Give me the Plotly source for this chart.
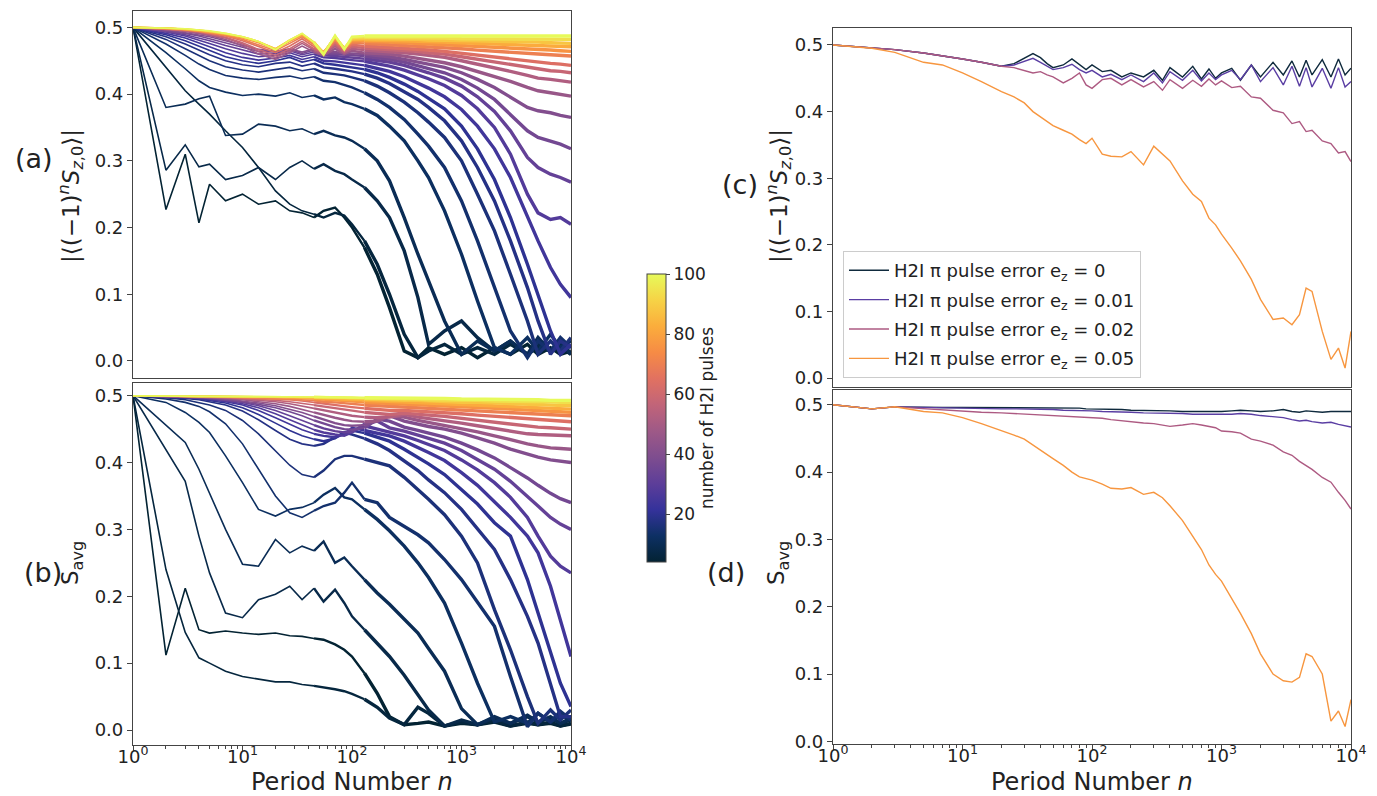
import plotly.graph_objects as go
from plotly.colors import get_colorscale, sample_colorscale

# ---------------- data: left panels (a) and (b) ----------------
N_GRID = [1, 2, 3, 4, 5, 7, 10, 14, 20, 27, 35, 45, 55, 70, 85, 100, 130, 170, 220, 300,
          400, 500, 700, 1000, 1400, 2000, 2800, 4000, 5000, 6500, 8000, 10000]

N_PULSES = [4, 6, 8, 10, 12, 14, 16, 18, 20, 24, 28, 32, 36, 40, 46, 52, 58, 64, 70, 76, 82, 88, 94, 100]

A_N04 = [0.500,0.227,0.310,0.207,0.265,0.240,0.250,0.235,0.240,0.225,0.222,0.215,0.225,0.230,0.215,0.200,0.170,0.130,0.080,0.015,0.005,0.020,0.010,0.020,0.005,0.020,0.010,0.025,0.010,0.020,0.010,0.015]
A_N06 = [0.500,0.440,0.405,0.385,0.370,0.345,0.320,0.290,0.255,0.235,0.225,0.220,0.215,0.222,0.218,0.205,0.180,0.145,0.100,0.040,0.005,0.015,0.025,0.010,0.020,0.010,0.025,0.010,0.020,0.015,0.020,0.010]
A_N08 = [0.500,0.286,0.324,0.291,0.295,0.272,0.278,0.290,0.272,0.290,0.300,0.288,0.295,0.285,0.280,0.272,0.260,0.240,0.215,0.165,0.095,0.025,0.045,0.060,0.035,0.015,0.030,0.010,0.025,0.015,0.025,0.010]
A_N10 = [0.500,0.380,0.385,0.393,0.397,0.338,0.340,0.355,0.352,0.345,0.348,0.340,0.345,0.338,0.335,0.330,0.318,0.300,0.270,0.215,0.160,0.120,0.060,0.010,0.030,0.015,0.030,0.010,0.035,0.015,0.030,0.010]
A_N12 = [0.500,0.462,0.438,0.420,0.410,0.403,0.398,0.400,0.397,0.402,0.395,0.398,0.392,0.395,0.388,0.385,0.378,0.368,0.352,0.330,0.300,0.275,0.225,0.160,0.090,0.020,0.010,0.035,0.015,0.040,0.020,0.030]
A_N14 = [0.500,0.475,0.458,0.445,0.437,0.428,0.424,0.422,0.425,0.427,0.423,0.426,0.420,0.418,0.414,0.410,0.402,0.392,0.380,0.362,0.340,0.322,0.290,0.240,0.180,0.110,0.045,0.005,0.030,0.015,0.035,0.020]
A_N16 = [0.500,0.482,0.468,0.458,0.450,0.441,0.436,0.433,0.437,0.440,0.435,0.438,0.432,0.430,0.428,0.425,0.420,0.412,0.402,0.388,0.372,0.358,0.335,0.300,0.250,0.195,0.130,0.060,0.010,0.030,0.015,0.035]
A_N18 = [0.500,0.486,0.475,0.466,0.459,0.450,0.444,0.441,0.446,0.448,0.442,0.446,0.440,0.438,0.436,0.434,0.430,0.424,0.416,0.404,0.392,0.380,0.360,0.330,0.290,0.240,0.180,0.110,0.060,0.010,0.030,0.020]
A_N20 = [0.500,0.489,0.480,0.472,0.466,0.456,0.450,0.446,0.450,0.455,0.448,0.452,0.446,0.444,0.442,0.440,0.437,0.432,0.425,0.415,0.404,0.394,0.378,0.352,0.318,0.272,0.215,0.145,0.100,0.045,0.010,0.025]
A_N24 = [0.500,0.491,0.484,0.477,0.471,0.462,0.455,0.451,0.454,0.458,0.452,0.456,0.450,0.449,0.447,0.446,0.443,0.439,0.434,0.426,0.417,0.409,0.396,0.377,0.352,0.318,0.275,0.215,0.180,0.140,0.115,0.095]
A_N28 = [0.500,0.493,0.487,0.481,0.476,0.468,0.461,0.456,0.458,0.462,0.456,0.460,0.455,0.454,0.452,0.451,0.449,0.446,0.442,0.436,0.429,0.423,0.413,0.398,0.378,0.350,0.310,0.250,0.222,0.212,0.215,0.205]
A_N32 = [0.500,0.494,0.489,0.484,0.480,0.473,0.466,0.460,0.461,0.465,0.459,0.463,0.458,0.457,0.456,0.455,0.453,0.451,0.448,0.443,0.437,0.432,0.424,0.412,0.396,0.374,0.345,0.305,0.290,0.280,0.275,0.268]
A_N36 = [0.500,0.495,0.491,0.487,0.483,0.477,0.470,0.464,0.463,0.467,0.461,0.466,0.460,0.460,0.459,0.458,0.457,0.455,0.452,0.448,0.443,0.439,0.432,0.422,0.409,0.392,0.370,0.345,0.335,0.330,0.325,0.318]
A_N40 = [0.500,0.496,0.492,0.489,0.486,0.480,0.473,0.467,0.464,0.468,0.463,0.468,0.462,0.463,0.461,0.461,0.460,0.458,0.456,0.452,0.448,0.445,0.440,0.432,0.422,0.410,0.395,0.380,0.375,0.372,0.368,0.365]
A_N46 = [0.500,0.497,0.494,0.491,0.488,0.482,0.472,0.460,0.452,0.462,0.472,0.463,0.458,0.468,0.460,0.465,0.462,0.461,0.460,0.457,0.454,0.451,0.447,0.441,0.434,0.427,0.419,0.410,0.405,0.402,0.400,0.397]
A_N52 = [0.500,0.497,0.495,0.492,0.489,0.484,0.475,0.464,0.455,0.465,0.476,0.466,0.460,0.472,0.462,0.468,0.466,0.465,0.464,0.462,0.460,0.458,0.455,0.450,0.445,0.440,0.434,0.428,0.424,0.422,0.420,0.418]
A_N58 = [0.500,0.498,0.495,0.493,0.490,0.485,0.477,0.467,0.458,0.468,0.479,0.468,0.462,0.475,0.464,0.471,0.469,0.468,0.467,0.466,0.464,0.462,0.460,0.456,0.452,0.448,0.444,0.440,0.437,0.435,0.434,0.432]
A_N64 = [0.500,0.498,0.496,0.494,0.491,0.487,0.480,0.471,0.462,0.472,0.483,0.471,0.463,0.478,0.466,0.474,0.472,0.471,0.470,0.469,0.467,0.466,0.464,0.461,0.458,0.455,0.452,0.449,0.447,0.446,0.445,0.443]
A_N70 = [0.500,0.498,0.496,0.494,0.492,0.488,0.482,0.474,0.465,0.476,0.486,0.474,0.462,0.481,0.468,0.477,0.476,0.475,0.474,0.473,0.472,0.471,0.470,0.468,0.466,0.464,0.462,0.461,0.460,0.459,0.458,0.457]
A_N76 = [0.500,0.499,0.497,0.495,0.493,0.489,0.484,0.477,0.467,0.479,0.488,0.476,0.462,0.483,0.469,0.479,0.479,0.479,0.478,0.477,0.476,0.475,0.474,0.473,0.472,0.471,0.470,0.468,0.467,0.466,0.465,0.464]
A_N82 = [0.500,0.499,0.497,0.495,0.493,0.490,0.485,0.478,0.468,0.480,0.489,0.477,0.462,0.485,0.469,0.481,0.481,0.481,0.480,0.480,0.479,0.479,0.478,0.477,0.476,0.476,0.475,0.474,0.473,0.472,0.472,0.471]
A_N88 = [0.500,0.499,0.497,0.496,0.494,0.490,0.486,0.479,0.468,0.481,0.490,0.478,0.461,0.486,0.469,0.482,0.483,0.483,0.482,0.482,0.482,0.481,0.481,0.480,0.480,0.479,0.479,0.478,0.478,0.477,0.477,0.476]
A_N94 = [0.500,0.499,0.498,0.496,0.494,0.491,0.486,0.479,0.467,0.481,0.491,0.478,0.460,0.487,0.468,0.484,0.485,0.485,0.485,0.484,0.484,0.484,0.484,0.483,0.483,0.483,0.483,0.482,0.482,0.482,0.482,0.482]
A_N100 = [0.500,0.499,0.498,0.496,0.495,0.491,0.486,0.479,0.466,0.481,0.491,0.477,0.459,0.488,0.467,0.486,0.487,0.487,0.487,0.487,0.487,0.487,0.487,0.487,0.487,0.487,0.487,0.487,0.487,0.487,0.487,0.487]

B_N04 = [0.500,0.112,0.212,0.150,0.145,0.148,0.145,0.143,0.145,0.141,0.140,0.137,0.135,0.128,0.120,0.110,0.085,0.055,0.020,0.008,0.010,0.012,0.006,0.010,0.008,0.012,0.006,0.010,0.008,0.010,0.006,0.009]
B_N06 = [0.500,0.240,0.146,0.108,0.100,0.088,0.080,0.076,0.072,0.072,0.068,0.066,0.064,0.061,0.058,0.054,0.046,0.034,0.018,0.008,0.034,0.025,0.006,0.012,0.008,0.014,0.006,0.012,0.008,0.012,0.006,0.010]
B_N08 = [0.500,0.420,0.372,0.290,0.235,0.175,0.168,0.195,0.203,0.215,0.195,0.212,0.192,0.210,0.190,0.170,0.150,0.130,0.110,0.082,0.052,0.030,0.006,0.015,0.008,0.018,0.010,0.020,0.012,0.018,0.010,0.015]
B_N10 = [0.500,0.455,0.430,0.390,0.355,0.300,0.248,0.245,0.285,0.265,0.275,0.268,0.282,0.250,0.258,0.245,0.225,0.205,0.188,0.165,0.145,0.122,0.088,0.032,0.008,0.020,0.010,0.022,0.012,0.020,0.010,0.018]
B_N12 = [0.500,0.490,0.475,0.460,0.445,0.410,0.370,0.330,0.320,0.330,0.333,0.340,0.352,0.362,0.348,0.345,0.330,0.315,0.298,0.275,0.250,0.228,0.190,0.130,0.070,0.012,0.020,0.010,0.025,0.012,0.022,0.015]
B_N14 = [0.500,0.495,0.490,0.484,0.476,0.458,0.428,0.390,0.350,0.325,0.318,0.328,0.335,0.340,0.355,0.370,0.345,0.340,0.318,0.305,0.292,0.280,0.255,0.225,0.190,0.155,0.080,0.005,0.025,0.012,0.028,0.015]
B_N16 = [0.500,0.497,0.494,0.490,0.486,0.478,0.463,0.443,0.418,0.396,0.382,0.378,0.388,0.405,0.410,0.410,0.405,0.400,0.395,0.378,0.360,0.345,0.322,0.290,0.250,0.180,0.120,0.050,0.010,0.030,0.015,0.030]
B_N18 = [0.500,0.498,0.496,0.494,0.491,0.486,0.477,0.464,0.448,0.435,0.428,0.425,0.428,0.438,0.445,0.442,0.436,0.428,0.418,0.402,0.388,0.374,0.355,0.330,0.300,0.270,0.225,0.170,0.130,0.070,0.020,0.020]
B_N20 = [0.500,0.498,0.497,0.495,0.493,0.489,0.482,0.472,0.459,0.448,0.440,0.435,0.432,0.436,0.445,0.448,0.444,0.438,0.432,0.420,0.408,0.398,0.382,0.360,0.338,0.310,0.290,0.225,0.175,0.120,0.070,0.035]
B_N24 = [0.500,0.499,0.497,0.496,0.494,0.491,0.486,0.478,0.467,0.457,0.449,0.443,0.440,0.438,0.442,0.452,0.448,0.444,0.440,0.432,0.423,0.415,0.403,0.385,0.366,0.342,0.318,0.290,0.265,0.215,0.165,0.110]
B_N28 = [0.500,0.499,0.498,0.496,0.495,0.492,0.488,0.482,0.473,0.464,0.456,0.449,0.445,0.442,0.440,0.445,0.455,0.450,0.446,0.440,0.433,0.427,0.418,0.404,0.389,0.370,0.348,0.318,0.290,0.260,0.245,0.235]
B_N32 = [0.500,0.499,0.498,0.497,0.496,0.493,0.490,0.485,0.478,0.470,0.463,0.456,0.451,0.447,0.445,0.446,0.458,0.462,0.452,0.447,0.441,0.436,0.429,0.418,0.405,0.390,0.372,0.350,0.335,0.318,0.308,0.300]
B_N36 = [0.500,0.499,0.498,0.497,0.496,0.494,0.491,0.487,0.482,0.476,0.470,0.463,0.458,0.453,0.450,0.449,0.452,0.465,0.462,0.453,0.448,0.444,0.438,0.429,0.419,0.407,0.393,0.377,0.366,0.354,0.346,0.340]
B_N40 = [0.500,0.499,0.498,0.498,0.497,0.495,0.492,0.489,0.485,0.480,0.475,0.469,0.464,0.459,0.456,0.455,0.456,0.463,0.470,0.462,0.457,0.454,0.450,0.444,0.437,0.429,0.420,0.412,0.408,0.404,0.402,0.400]
B_N46 = [0.500,0.499,0.499,0.498,0.497,0.496,0.494,0.491,0.488,0.484,0.480,0.475,0.471,0.467,0.464,0.462,0.461,0.462,0.470,0.468,0.463,0.460,0.456,0.451,0.446,0.440,0.434,0.428,0.425,0.422,0.421,0.420]
B_N52 = [0.500,0.499,0.499,0.498,0.498,0.497,0.495,0.493,0.491,0.488,0.485,0.481,0.478,0.475,0.472,0.470,0.468,0.467,0.468,0.472,0.468,0.466,0.463,0.459,0.455,0.451,0.447,0.443,0.442,0.441,0.440,0.440]
B_N58 = [0.500,0.499,0.499,0.499,0.498,0.497,0.496,0.495,0.493,0.491,0.489,0.486,0.484,0.481,0.479,0.477,0.475,0.473,0.472,0.474,0.473,0.471,0.469,0.466,0.463,0.460,0.457,0.454,0.453,0.452,0.451,0.450]
B_N64 = [0.500,0.499,0.499,0.499,0.499,0.498,0.497,0.496,0.495,0.494,0.492,0.490,0.488,0.486,0.484,0.483,0.481,0.479,0.478,0.478,0.477,0.476,0.475,0.473,0.471,0.469,0.467,0.465,0.464,0.463,0.462,0.461]
B_N70 = [0.500,0.499,0.499,0.499,0.499,0.498,0.498,0.497,0.496,0.495,0.494,0.493,0.491,0.490,0.489,0.488,0.486,0.485,0.484,0.483,0.482,0.481,0.480,0.479,0.478,0.476,0.475,0.474,0.473,0.472,0.471,0.470]
B_N76 = [0.500,0.499,0.499,0.499,0.499,0.499,0.498,0.498,0.497,0.496,0.496,0.495,0.494,0.493,0.492,0.491,0.490,0.489,0.488,0.487,0.486,0.485,0.484,0.483,0.482,0.481,0.480,0.479,0.478,0.477,0.476,0.475]
B_N82 = [0.500,0.499,0.499,0.499,0.499,0.499,0.499,0.498,0.498,0.497,0.497,0.496,0.496,0.495,0.494,0.494,0.493,0.492,0.491,0.490,0.490,0.489,0.488,0.487,0.486,0.485,0.484,0.483,0.483,0.482,0.481,0.480]
B_N88 = [0.500,0.499,0.499,0.499,0.499,0.499,0.499,0.499,0.498,0.498,0.497,0.497,0.497,0.496,0.496,0.495,0.495,0.494,0.494,0.493,0.493,0.492,0.491,0.490,0.490,0.489,0.488,0.488,0.487,0.486,0.486,0.485]
B_N94 = [0.500,0.499,0.499,0.499,0.499,0.499,0.499,0.499,0.499,0.498,0.498,0.498,0.498,0.497,0.497,0.497,0.496,0.496,0.496,0.495,0.495,0.494,0.494,0.493,0.493,0.492,0.492,0.491,0.491,0.491,0.490,0.490]
B_N100 = [0.500,0.499,0.499,0.499,0.499,0.499,0.499,0.499,0.499,0.499,0.499,0.498,0.498,0.498,0.498,0.498,0.497,0.497,0.497,0.497,0.496,0.496,0.496,0.495,0.495,0.495,0.494,0.494,0.494,0.493,0.493,0.493]

A_SERIES = [A_N04, A_N06, A_N08, A_N10, A_N12, A_N14, A_N16, A_N18, A_N20, A_N24, A_N28, A_N32,
            A_N36, A_N40, A_N46, A_N52, A_N58, A_N64, A_N70, A_N76, A_N82, A_N88, A_N94, A_N100]
B_SERIES = [B_N04, B_N06, B_N08, B_N10, B_N12, B_N14, B_N16, B_N18, B_N20, B_N24, B_N28, B_N32,
            B_N36, B_N40, B_N46, B_N52, B_N58, B_N64, B_N70, B_N76, B_N82, B_N88, B_N94, B_N100]

# ---------------- data: right panels (c) and (d) ----------------
R_GRID = [1, 2, 3, 5, 7, 10, 14, 20, 25, 30, 35, 40, 45, 50, 60, 70, 80, 90, 100, 120, 140, 170, 200, 250,
          300, 350, 400, 500, 600, 700, 800, 900, 1000, 1200, 1400, 1700, 2000, 2500, 3000, 3500,
          4000, 4500, 5000, 6000, 7000, 8000, 9000, 10000]

E_LABELS = ["0", "0.01", "0.02", "0.05"]
E_COLORS = ["#0f2a3d", "#5a3ea3", "#ad5a82", "#f7963f"]

C_E000 = [0.500,0.496,0.493,0.488,0.484,0.479,0.474,0.468,0.472,0.480,0.487,0.481,0.472,0.466,0.470,0.479,0.470,0.463,0.470,0.460,0.462,0.452,0.458,0.452,0.462,0.447,0.466,0.452,0.468,0.449,0.464,0.450,0.458,0.465,0.447,0.470,0.452,0.474,0.455,0.476,0.452,0.477,0.455,0.478,0.452,0.479,0.455,0.465]
C_E001 = [0.500,0.496,0.493,0.488,0.484,0.479,0.474,0.468,0.470,0.476,0.480,0.474,0.468,0.463,0.466,0.471,0.463,0.458,0.462,0.452,0.456,0.448,0.455,0.445,0.458,0.443,0.460,0.447,0.462,0.446,0.458,0.448,0.455,0.462,0.448,0.470,0.445,0.466,0.440,0.468,0.438,0.466,0.437,0.465,0.435,0.466,0.437,0.445]
C_E002 = [0.500,0.496,0.493,0.488,0.484,0.479,0.474,0.468,0.466,0.462,0.458,0.460,0.455,0.452,0.443,0.450,0.458,0.440,0.435,0.448,0.450,0.440,0.448,0.437,0.445,0.432,0.448,0.435,0.447,0.438,0.449,0.440,0.446,0.436,0.438,0.422,0.420,0.402,0.398,0.382,0.385,0.370,0.372,0.356,0.352,0.338,0.340,0.325]
C_E005 = [0.500,0.495,0.489,0.474,0.470,0.458,0.445,0.430,0.422,0.413,0.400,0.392,0.385,0.379,0.372,0.366,0.358,0.352,0.360,0.336,0.333,0.332,0.340,0.320,0.348,0.336,0.326,0.296,0.276,0.265,0.240,0.230,0.216,0.195,0.176,0.148,0.118,0.088,0.090,0.080,0.095,0.135,0.130,0.070,0.028,0.045,0.015,0.070]

D_E000 = [0.500,0.494,0.497,0.496,0.496,0.496,0.496,0.496,0.496,0.496,0.496,0.496,0.495,0.495,0.495,0.495,0.495,0.494,0.494,0.494,0.493,0.493,0.492,0.492,0.491,0.491,0.491,0.490,0.490,0.490,0.489,0.489,0.490,0.491,0.492,0.491,0.490,0.491,0.493,0.490,0.489,0.491,0.490,0.489,0.490,0.490,0.489,0.490]
D_E001 = [0.500,0.494,0.497,0.496,0.496,0.495,0.495,0.494,0.494,0.494,0.493,0.493,0.493,0.493,0.492,0.492,0.492,0.491,0.491,0.490,0.490,0.489,0.489,0.488,0.488,0.487,0.487,0.487,0.486,0.486,0.486,0.485,0.485,0.486,0.487,0.486,0.484,0.482,0.481,0.478,0.476,0.477,0.475,0.473,0.474,0.471,0.469,0.467]
D_E002 = [0.500,0.494,0.497,0.494,0.492,0.490,0.489,0.488,0.487,0.486,0.486,0.485,0.485,0.484,0.483,0.483,0.482,0.481,0.481,0.480,0.478,0.476,0.475,0.473,0.472,0.470,0.468,0.470,0.472,0.470,0.468,0.466,0.461,0.460,0.458,0.449,0.446,0.440,0.430,0.425,0.416,0.410,0.404,0.392,0.385,0.370,0.358,0.345]
D_E005 = [0.500,0.494,0.497,0.490,0.488,0.481,0.472,0.462,0.455,0.449,0.440,0.432,0.425,0.420,0.410,0.400,0.393,0.390,0.388,0.382,0.376,0.375,0.377,0.367,0.370,0.362,0.350,0.328,0.305,0.285,0.262,0.248,0.238,0.212,0.190,0.160,0.130,0.100,0.090,0.088,0.095,0.130,0.126,0.100,0.030,0.045,0.022,0.062]

C_SERIES = [C_E000, C_E001, C_E002, C_E005]
D_SERIES = [D_E000, D_E001, D_E002, D_E005]

X_TICKS = [1, 10, 100, 1000, 10000]
X_TICKTEXT = ["10<sup>0</sup>", "10<sup>1</sup>", "10<sup>2</sup>", "10<sup>3</sup>", "10<sup>4</sup>"]
X_MINOR = [m * 10 ** e for e in range(4) for m in range(2, 10)]
Y_TICKS = [0.0, 0.1, 0.2, 0.3, 0.4, 0.5]
Y_TICKTEXT = ["0.0", "0.1", "0.2", "0.3", "0.4", "0.5"]
CB_TICKS = [20, 40, 60, 80, 100]
CMIN, CMAX = 4, 100

for s in A_SERIES + B_SERIES:
    assert len(s) == len(N_GRID), len(s)
for s in C_SERIES + D_SERIES:
    assert len(s) == len(R_GRID), len(s)

# ---------------- figure ----------------
W, H = 1377, 796
FONT = "DejaVu Sans"
INK = "#222222"
# the noisy later part of every curve is drawn progressively thicker
SEGMENTS = [(0, 11, 1.6), (11, 16, 2.4), (16, len(N_GRID) - 1, 3.4)]
CS = get_colorscale("thermal")


def px_x(p):
    return p / W


def px_y(p):
    return 1 - p / H


fig = go.Figure()

for axis_suffix, series in (("", A_SERIES), ("2", B_SERIES)):
    for npulse, vals in zip(N_PULSES, series):
        col = sample_colorscale(CS, [(npulse - CMIN) / (CMAX - CMIN)])[0]
        for i0, i1, lw in SEGMENTS:
            fig.add_trace(go.Scatter(x=N_GRID[i0:i1 + 1], y=vals[i0:i1 + 1], mode="lines",
                                     line=dict(color=col, width=lw), showlegend=False,
                                     hoverinfo="skip", xaxis="x" + axis_suffix, yaxis="y" + axis_suffix))

for lab, col, vals in zip(E_LABELS, E_COLORS, C_SERIES):
    fig.add_trace(go.Scatter(x=R_GRID, y=vals, mode="lines", line=dict(color=col, width=1.4),
                             name="H2I \u03c0 pulse error e<sub>z</sub> = " + lab,
                             legendgroup=lab, xaxis="x3", yaxis="y3"))
for lab, col, vals in zip(E_LABELS, E_COLORS, D_SERIES):
    fig.add_trace(go.Scatter(x=R_GRID, y=vals, mode="lines", line=dict(color=col, width=1.4),
                             showlegend=False, legendgroup=lab, xaxis="x4", yaxis="y4"))

# colorbar carrier
fig.add_trace(go.Scatter(x=[1], y=[-5], mode="markers", showlegend=False, hoverinfo="skip",
                         marker=dict(size=0.1, color=[CMIN], cmin=CMIN, cmax=CMAX, colorscale="thermal",
                                     showscale=True,
                                     colorbar=dict(x=px_x(647), xanchor="left", y=px_y(418), yanchor="middle",
                                                   len=288 / H, lenmode="fraction", thickness=19,
                                                   thicknessmode="pixels", xpad=0, ypad=0,
                                                   outlinewidth=1, outlinecolor="#444",
                                                   tickvals=CB_TICKS, ticks="outside", ticklen=4,
                                                   tickcolor="#444",
                                                   tickfont=dict(size=17, family=FONT, color=INK),
                                                   title=dict(text="number of H2I pulses", side="right",
                                                              font=dict(size=17, family=FONT, color=INK)))),
                         xaxis="x", yaxis="y"))


def xaxis(domain, anchor, labels):
    return dict(type="log", range=[0, 4], domain=domain, anchor=anchor, automargin=False,
                showline=True, linecolor="#444",
                linewidth=1.2, mirror=True, ticks="outside" if labels else "", ticklen=5, tickwidth=1.2,
                tickcolor="#444", tickvals=X_TICKS, ticktext=X_TICKTEXT, showticklabels=labels,
                ticklabelstandoff=-10,
                showgrid=False, zeroline=False,
                minor=dict(tickvals=X_MINOR, ticks="outside" if labels else "", ticklen=2.5,
                           tickwidth=1, tickcolor="#444", showgrid=False),
                tickfont=dict(size=18, family=FONT, color=INK))


def yaxis(domain, anchor, rng):
    return dict(range=rng, domain=domain, anchor=anchor, automargin=False,
                showline=True, linecolor="#444", linewidth=1.2,
                mirror=True, ticks="outside", ticklen=5, tickwidth=1.2, tickcolor="#444",
                tickvals=Y_TICKS, ticktext=Y_TICKTEXT, showgrid=False, zeroline=False,
                tickfont=dict(size=18, family=FONT, color=INK))


XL = [px_x(133), px_x(571)]
XR = [px_x(833), px_x(1351)]

fig.update_layout(
    width=W, height=H, autosize=False,
    margin=dict(l=0, r=0, t=0, b=0, autoexpand=False),
    paper_bgcolor="white", plot_bgcolor="white",
    font=dict(family=FONT, color=INK),
    xaxis=xaxis(XL, "y", False),
    yaxis=yaxis([px_y(378), px_y(10.7)], "x", [-0.0255, 0.525]),
    xaxis2=xaxis(XL, "y2", True),
    yaxis2=yaxis([px_y(745), px_y(383)], "x2", [-0.0224, 0.519]),
    xaxis3=xaxis(XR, "y3", False),
    yaxis3=yaxis([px_y(387), px_y(28)], "x3", [-0.0135, 0.5255]),
    xaxis4=xaxis(XR, "y4", True),
    yaxis4=yaxis([px_y(744), px_y(390)], "x4", [-0.004, 0.522]),
    legend=dict(x=px_x(843), y=px_y(378), xanchor="left", yanchor="bottom",
                bgcolor="rgba(255,255,255,0.85)", bordercolor="#cccccc", borderwidth=1,
                font=dict(size=18, family=FONT, color=INK), tracegroupgap=3, itemwidth=40),
    showlegend=True,
)

ann = []


def label(text, x, y, size, angle=0):
    ann.append(dict(text=text, x=px_x(x), y=px_y(y), xref="paper", yref="paper", showarrow=False,
                    textangle=angle, xanchor="center", yanchor="middle",
                    font=dict(size=size, family=FONT, color=INK)))


YLAB_A = "|\u27e8(\u22121)<sup><i>n</i></sup><i>S</i><sub><i>z</i>,0</sub>\u27e9|"
YLAB_B = "S<sub>avg</sub>"
label("(a)", 34, 158, 27)
label("(b)", 43, 572, 27)
label("(c)", 740, 185, 27)
label("(d)", 726, 572, 27)
label(YLAB_A, 70, 196, 23, -90)
label(YLAB_B, 72, 563, 23, -90)
label(YLAB_A, 778, 196, 23, -90)
label(YLAB_B, 778, 563, 23, -90)
label("Period Number <i>n</i>", 352, 782, 24)
label("Period Number <i>n</i>", 1092, 782, 24)
fig.update_layout(annotations=ann)

fig.write_html("out.html", config={"displayModeBar": False},
               post_script="document.body.style.margin='0px';")
